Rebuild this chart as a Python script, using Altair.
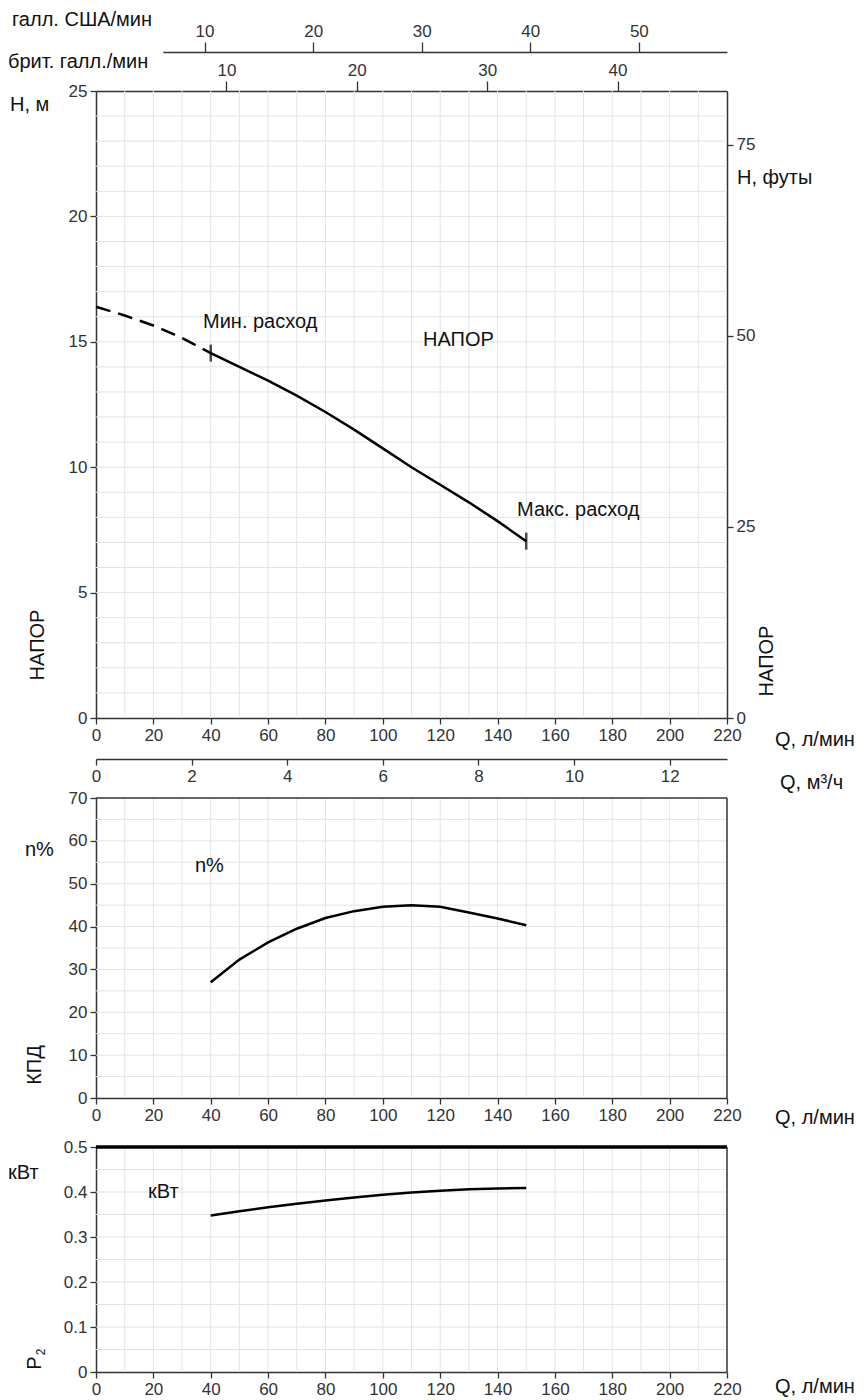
import altair as alt
import pandas as pd

# ---------------- data ----------------
Q_DASH = [0, 10, 20, 30, 40]
H_DASH = [16.4, 16.05, 15.65, 15.15, 14.55]
Q_CURVE = [40, 50, 60, 70, 80, 90, 100, 110, 120, 130, 140, 150]
H_CURVE = [14.55, 14.0, 13.45, 12.85, 12.2, 11.5, 10.75, 10.0, 9.3, 8.6, 7.85, 7.05]
EFF_CURVE = [27.0, 32.3, 36.3, 39.5, 42.0, 43.6, 44.6, 45.0, 44.6, 43.3, 41.9, 40.3]
P2_CURVE = [0.348, 0.357, 0.366, 0.374, 0.381, 0.388, 0.394, 0.399, 0.403, 0.406, 0.408, 0.409]
Q_LIMITS = [40, 150]
H_LIMITS = [14.55, 7.05]

Q_TICKS = [0, 20, 40, 60, 80, 100, 120, 140, 160, 180, 200, 220]
Q_GRID = [10, 20, 30, 40, 50, 60, 70, 80, 90, 100, 110, 120, 130, 140, 150, 160, 170, 180, 190, 200, 210]
H_TICKS = [0, 5, 10, 15, 20, 25]
H_GRID = list(range(1, 25))
FT_TICKS = [0, 25, 50, 75]
M3H_TICKS = [0, 2, 4, 6, 8, 10, 12]
US_TICKS = [10, 20, 30, 40, 50]
UK_TICKS = [10, 20, 30, 40]
EFF_TICKS = [0, 10, 20, 30, 40, 50, 60, 70]
EFF_GRID = [5, 10, 15, 20, 25, 30, 35, 40, 45, 50, 55, 60, 65]
P_TICKS = [0, 0.1, 0.2, 0.3, 0.4, 0.5]
P_GRID = [0.05, 0.1, 0.15, 0.2, 0.25, 0.3, 0.35, 0.4, 0.45]

Q_MAX = 220
H_MAX = 25
EFF_MAX = 70
P_MAX = 0.5
US_GAL = 3.78541
UK_GAL = 4.54609
FOOT = 0.3048
Q_US_START = 23.3

# ---------------- geometry ----------------
W = 631
HEAD_RANGE = [627, 0]
EFF_RANGE = [1007, 707]
P_RANGE = [1281, 1056]
TOTAL_H = 1281

GRID = "#dfe5e5"
AX = "#333333"
TICK_FONT = "Liberation Sans"
TEXT_FONT = "Liberation Sans"
TEXT_SIZE = 20

q_scale = alt.Scale(domain=[0, Q_MAX], range=[0, W], nice=False, zero=False)
h_scale = alt.Scale(domain=[0, H_MAX], range=HEAD_RANGE, nice=False, zero=False)
ft_scale = alt.Scale(domain=[0, H_MAX / FOOT], range=HEAD_RANGE, nice=False, zero=False)
eff_scale = alt.Scale(domain=[0, EFF_MAX], range=EFF_RANGE, nice=False, zero=False)
p_scale = alt.Scale(domain=[0, P_MAX], range=P_RANGE, nice=False, zero=False)
m3h_scale = alt.Scale(domain=[0, Q_MAX * 60 / 1000], range=[0, W], nice=False, zero=False)
uk_scale = alt.Scale(domain=[0, Q_MAX / UK_GAL], range=[0, W], nice=False, zero=False)
us_scale = alt.Scale(domain=[Q_US_START / US_GAL, Q_MAX / US_GAL],
                     range=[W * Q_US_START / Q_MAX, W], nice=False, zero=False)


def axis(orient, values, offset=0, label_expr=None, tick_size=6, pad=3):
    kw = dict(orient=orient, values=values, offset=offset, title=None, grid=False,
              domainColor=AX, domainWidth=1.5, tickColor=AX, tickWidth=1.3,
              tickSize=tick_size, labelFont=TICK_FONT, labelFontSize=17,
              labelColor="#333333", labelPadding=pad, labelOverlap=False,
              labelFlush=False)
    if label_expr:
        kw["labelExpr"] = label_expr
    return alt.Axis(**kw)


def df(**cols):
    return pd.DataFrame(cols)


layers = []

# ---------- grids ----------
def vgrid(yscale, top):
    return alt.Chart(df(q=Q_GRID)).mark_rule(color=GRID, strokeWidth=1).encode(
        x=alt.X("q:Q", scale=q_scale, axis=None),
        y=alt.YDatum(0, type="quantitative", scale=yscale, axis=None),
        y2=alt.Y2Datum(top),
    )


def hgrid(vals, yscale):
    return alt.Chart(df(v=vals)).mark_rule(color=GRID, strokeWidth=1).encode(
        y=alt.Y("v:Q", scale=yscale, axis=None),
        x=alt.XDatum(0, type="quantitative", scale=q_scale, axis=None),
        x2=alt.X2Datum(Q_MAX),
    )


layers += [vgrid(h_scale, H_MAX), hgrid(H_GRID, h_scale),
           vgrid(eff_scale, EFF_MAX), hgrid(EFF_GRID, eff_scale),
           vgrid(p_scale, P_MAX), hgrid(P_GRID, p_scale)]

# ---------- head panel ----------
head_df = df(q=Q_CURVE, h=H_CURVE)
layers.append(alt.Chart(head_df).mark_line(color="black", strokeWidth=2.5).encode(
    x=alt.X("q:Q", scale=q_scale, axis=axis("bottom", Q_TICKS, offset=HEAD_RANGE[0] - TOTAL_H)),
    y=alt.Y("h:Q", scale=h_scale, axis=axis("left", H_TICKS)),
))
layers.append(alt.Chart(df(q=Q_DASH, h=H_DASH)).mark_line(
    color="black", strokeWidth=2.5, strokeDash=[15, 8]).encode(
    x=alt.X("q:Q", scale=q_scale, axis=None),
    y=alt.Y("h:Q", scale=h_scale, axis=None),
))
layers.append(alt.Chart(df(q=Q_LIMITS, h=H_LIMITS)).mark_tick(
    orient="vertical", size=17, thickness=2.5, color="black").encode(
    x=alt.X("q:Q", scale=q_scale, axis=None),
    y=alt.Y("h:Q", scale=h_scale, axis=None),
))
# feet axis (right)
layers.append(alt.Chart(df(v=FT_TICKS)).mark_point(opacity=0).encode(
    y=alt.Y("v:Q", scale=ft_scale, axis=axis("right", FT_TICKS)),
    x=alt.value(0),
))
# m3/h axis (below head)
layers.append(alt.Chart(df(v=M3H_TICKS)).mark_point(opacity=0).encode(
    x=alt.X("v:Q", scale=m3h_scale, axis=axis("bottom", M3H_TICKS, offset=668 - TOTAL_H)),
    y=alt.value(0),
))
# UK gallons axis (top border)
layers.append(alt.Chart(df(v=UK_TICKS)).mark_point(opacity=0).encode(
    x=alt.X("v:Q", scale=uk_scale, axis=axis("top", UK_TICKS, tick_size=10, pad=2)),
    y=alt.value(0),
))
# US gallons axis (above)
layers.append(alt.Chart(df(v=US_TICKS)).mark_point(opacity=0).encode(
    x=alt.X("v:Q", scale=us_scale, axis=axis("top", US_TICKS, offset=39, tick_size=10, pad=2)),
    y=alt.value(0),
))

# ---------- efficiency panel ----------
layers.append(alt.Chart(df(q=Q_CURVE, e=EFF_CURVE)).mark_line(color="black", strokeWidth=2.5).encode(
    x=alt.X("q:Q", scale=q_scale, axis=axis("bottom", Q_TICKS, offset=EFF_RANGE[0] - TOTAL_H)),
    y=alt.Y("e:Q", scale=eff_scale, axis=axis("left", EFF_TICKS)),
))
layers.append(alt.Chart(df(q=[0])).mark_rule(color=AX, strokeWidth=1.5).encode(
    x=alt.XDatum(0, type="quantitative", scale=q_scale, axis=None),
    x2=alt.X2Datum(Q_MAX),
    y=alt.YDatum(EFF_MAX, type="quantitative", scale=eff_scale, axis=None),
))
layers.append(alt.Chart(df(q=[0])).mark_rule(color=AX, strokeWidth=1.5).encode(
    x=alt.XDatum(Q_MAX, type="quantitative", scale=q_scale, axis=None),
    y=alt.YDatum(0, type="quantitative", scale=eff_scale, axis=None),
    y2=alt.Y2Datum(EFF_MAX),
))

# ---------- power panel ----------
layers.append(alt.Chart(df(q=Q_CURVE, p=P2_CURVE)).mark_line(color="black", strokeWidth=2.5).encode(
    x=alt.X("q:Q", scale=q_scale, axis=axis("bottom", Q_TICKS)),
    y=alt.Y("p:Q", scale=p_scale, axis=axis(
        "left", P_TICKS, label_expr="datum.value == 0 ? '0' : format(datum.value, '.1f')")),
))
layers.append(alt.Chart(df(q=[0])).mark_rule(color="black", strokeWidth=3.5).encode(
    x=alt.XDatum(0, type="quantitative", scale=q_scale, axis=None),
    x2=alt.X2Datum(Q_MAX),
    y=alt.YDatum(P_MAX, type="quantitative", scale=p_scale, axis=None),
))
layers.append(alt.Chart(df(q=[0])).mark_rule(color=AX, strokeWidth=1.5).encode(
    x=alt.XDatum(Q_MAX, type="quantitative", scale=q_scale, axis=None),
    y=alt.YDatum(0, type="quantitative", scale=p_scale, axis=None),
    y2=alt.Y2Datum(P_MAX),
))

# ---------- texts ----------
one = df(t=[0])


def label(text, x, y, size=TEXT_SIZE, angle=0, align="left"):
    return alt.Chart(one).mark_text(
        text=text, align=align, baseline="middle", angle=angle, fontSize=size,
        font=TEXT_FONT, color="#111111").encode(x=alt.value(x), y=alt.value(y))


layers += [
    label("галл. США/мин", -84, -71),
    label("брит. галл./мин", -88, -29),
    label("H, м", -86, 14),
    label("НАПОР", -58, 554, angle=270, align="center"),
    label("H, футы", 641, 87),
    label("НАПОР", 671, 570, angle=270, align="center"),
    label("Мин. расход", 107, 231),
    label("НАПОР", 327, 249),
    label("Макс. расход", 421, 419),
    label("Q, л/мин", 679, 649),
    label("Q, м³/ч", 684, 692),
    label("n%", -71, 759),
    label("n%", 99, 775),
    label("КПД", -61, 974, angle=270, align="center"),
    label("Q, л/мин", 679, 1027),
    label("кВт", -88, 1082),
    label("кВт", 52, 1101),
    label("P", -61, 1272, angle=270, align="center"),
    label("2", -55, 1261, size=12, angle=270, align="center"),
    label("Q, л/мин", 679, 1296),
]

chart = alt.layer(*layers).resolve_scale(
    x="independent", y="independent"
).resolve_axis(
    x="independent", y="independent"
).properties(
    width=W, height=TOTAL_H,
    autosize=alt.AutoSizeParams(type="none"),
    padding={"left": 88, "top": 83, "right": 130, "bottom": 25},
    background="white",
).configure_view(stroke=None)

chart.save("out.html", embed_options={"renderer": "svg", "actions": False})
